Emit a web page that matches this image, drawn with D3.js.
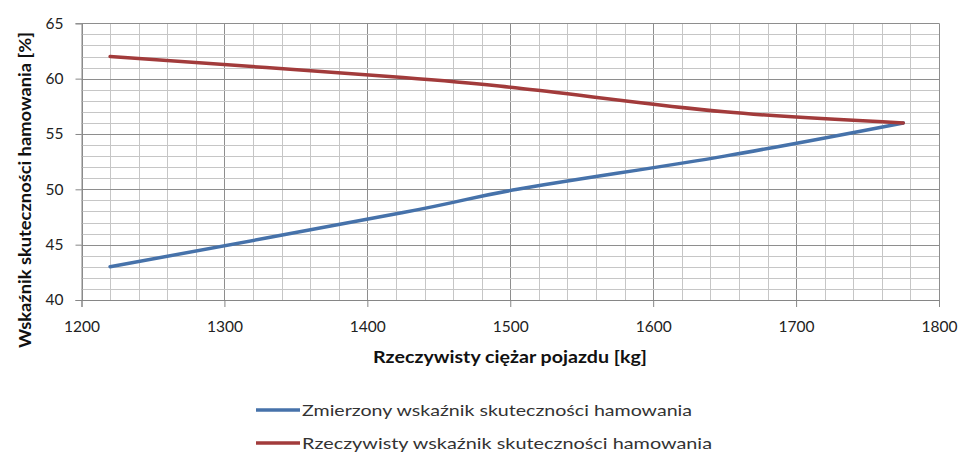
<!DOCTYPE html>
<html>
<head>
<meta charset="utf-8">
<script src="https://cdn.jsdelivr.net/npm/d3@7"></script>
<style>
  html, body { margin: 0; padding: 0; background: #fff; }
  svg { display: block; font-family: Lato, "Open Sans", sans-serif; }
</style>
</head>
<body>
<svg id="chart" width="962" height="453"></svg>
<script>
// Vehicle weight [kg] at each measurement
const weights = [1220, 1425, 1505, 1650, 1775];
// Measured braking efficiency [%]
const measured = [43, 47.9, 50, 53, 56];
// Actual braking efficiency [%]
const actual = [62, 60.1, 59.15, 57, 56];

const xTicks = [1200, 1300, 1400, 1500, 1600, 1700, 1800];
const yTicks = [40, 45, 50, 55, 60, 65];

const seriesNames = [
  "Zmierzony wskaźnik skuteczności hamowania",
  "Rzeczywisty wskaźnik skuteczności hamowania"
];
const seriesColors = ["#4672AA", "#A23B3B"];

const svg = d3.select("#chart");
const plotLeft = 81.5, plotRight = 939, plotTop = 23.3, plotBottom = 300;

const x = d3.scaleLinear().domain([1200, 1800]).range([plotLeft, plotRight]);
const y = d3.scaleLinear().domain([40, 65]).range([plotBottom, plotTop]);

// Grid: minor every 20 kg / 1 %, major at the labelled ticks
const grid = svg.append("g");
d3.range(1200, 1801, 20).forEach(v => {
  grid.append("line")
    .attr("x1", Math.round(x(v)) + 0.5).attr("x2", Math.round(x(v)) + 0.5)
    .attr("y1", plotTop).attr("y2", plotBottom)
    .attr("stroke", v % 100 === 0 ? "#8e8e8e" : "#c6c6c6").attr("stroke-width", 1);
});
d3.range(40, 66, 1).forEach(v => {
  grid.append("line")
    .attr("x1", plotLeft).attr("x2", plotRight)
    .attr("y1", Math.round(y(v)) + 0.5).attr("y2", Math.round(y(v)) + 0.5)
    .attr("stroke", v % 5 === 0 ? "#8e8e8e" : "#c6c6c6").attr("stroke-width", 1);
});

// Axes
const xAxis = d3.axisBottom(x).tickValues(xTicks).tickSize(7).tickPadding(6).tickFormat(d3.format("d"));
const yAxis = d3.axisLeft(y).tickValues(yTicks).tickSize(6).tickPadding(12).tickFormat(d3.format("d"));

const gx = svg.append("g").attr("transform", `translate(0,${plotBottom})`).call(xAxis);
const gy = svg.append("g").attr("transform", `translate(${plotLeft},0)`).call(yAxis);
[gx, gy].forEach(g => {
  g.selectAll("path.domain").attr("stroke", "#868686");
  g.selectAll(".tick line").attr("stroke", "#868686");
  g.selectAll("text").attr("fill", "#222").style("font-size", "15.5px")
    .style("font-family", "Lato, sans-serif");
});
gx.selectAll("text").attr("dy", "1.2em");

// Axis titles
svg.append("text")
  .attr("x", 510).attr("y", 363)
  .attr("text-anchor", "middle")
  .attr("textLength", 274).attr("lengthAdjust", "spacingAndGlyphs")
  .style("font-size", "17px").style("font-weight", "bold").attr("fill", "#111")
  .text("Rzeczywisty ciężar pojazdu [kg]");

svg.append("text")
  .attr("transform", "translate(31,190) rotate(-90)")
  .attr("text-anchor", "middle")
  .attr("textLength", 316).attr("lengthAdjust", "spacingAndGlyphs")
  .style("font-size", "17px").style("font-weight", "bold").attr("fill", "#111")
  .text("Wskaźnik skuteczności hamowania [%]");

// Series lines
const line = d3.line()
  .x((d, i) => x(weights[i]))
  .y(d => y(d))
  .curve(d3.curveCatmullRom.alpha(0));

[measured, actual].forEach((vals, i) => {
  svg.append("path")
    .datum(vals)
    .attr("d", line)
    .attr("fill", "none")
    .attr("stroke", seriesColors[i])
    .attr("stroke-width", 3.5)
    .attr("stroke-linecap", "round")
    .attr("stroke-linejoin", "round");
});

// Legend
const legend = svg.append("g");
seriesNames.forEach((name, i) => {
  const ly = 410 + i * 33;
  legend.append("line")
    .attr("x1", 256).attr("x2", 300).attr("y1", ly).attr("y2", ly)
    .attr("stroke", seriesColors[i]).attr("stroke-width", 3.5);
  legend.append("text")
    .attr("x", 302).attr("y", ly + 6)
    .attr("textLength", i === 0 ? 390 : 410).attr("lengthAdjust", "spacingAndGlyphs")
    .style("font-size", "16px").attr("fill", "#333")
    .text(name);
});
</script>
</body>
</html>
